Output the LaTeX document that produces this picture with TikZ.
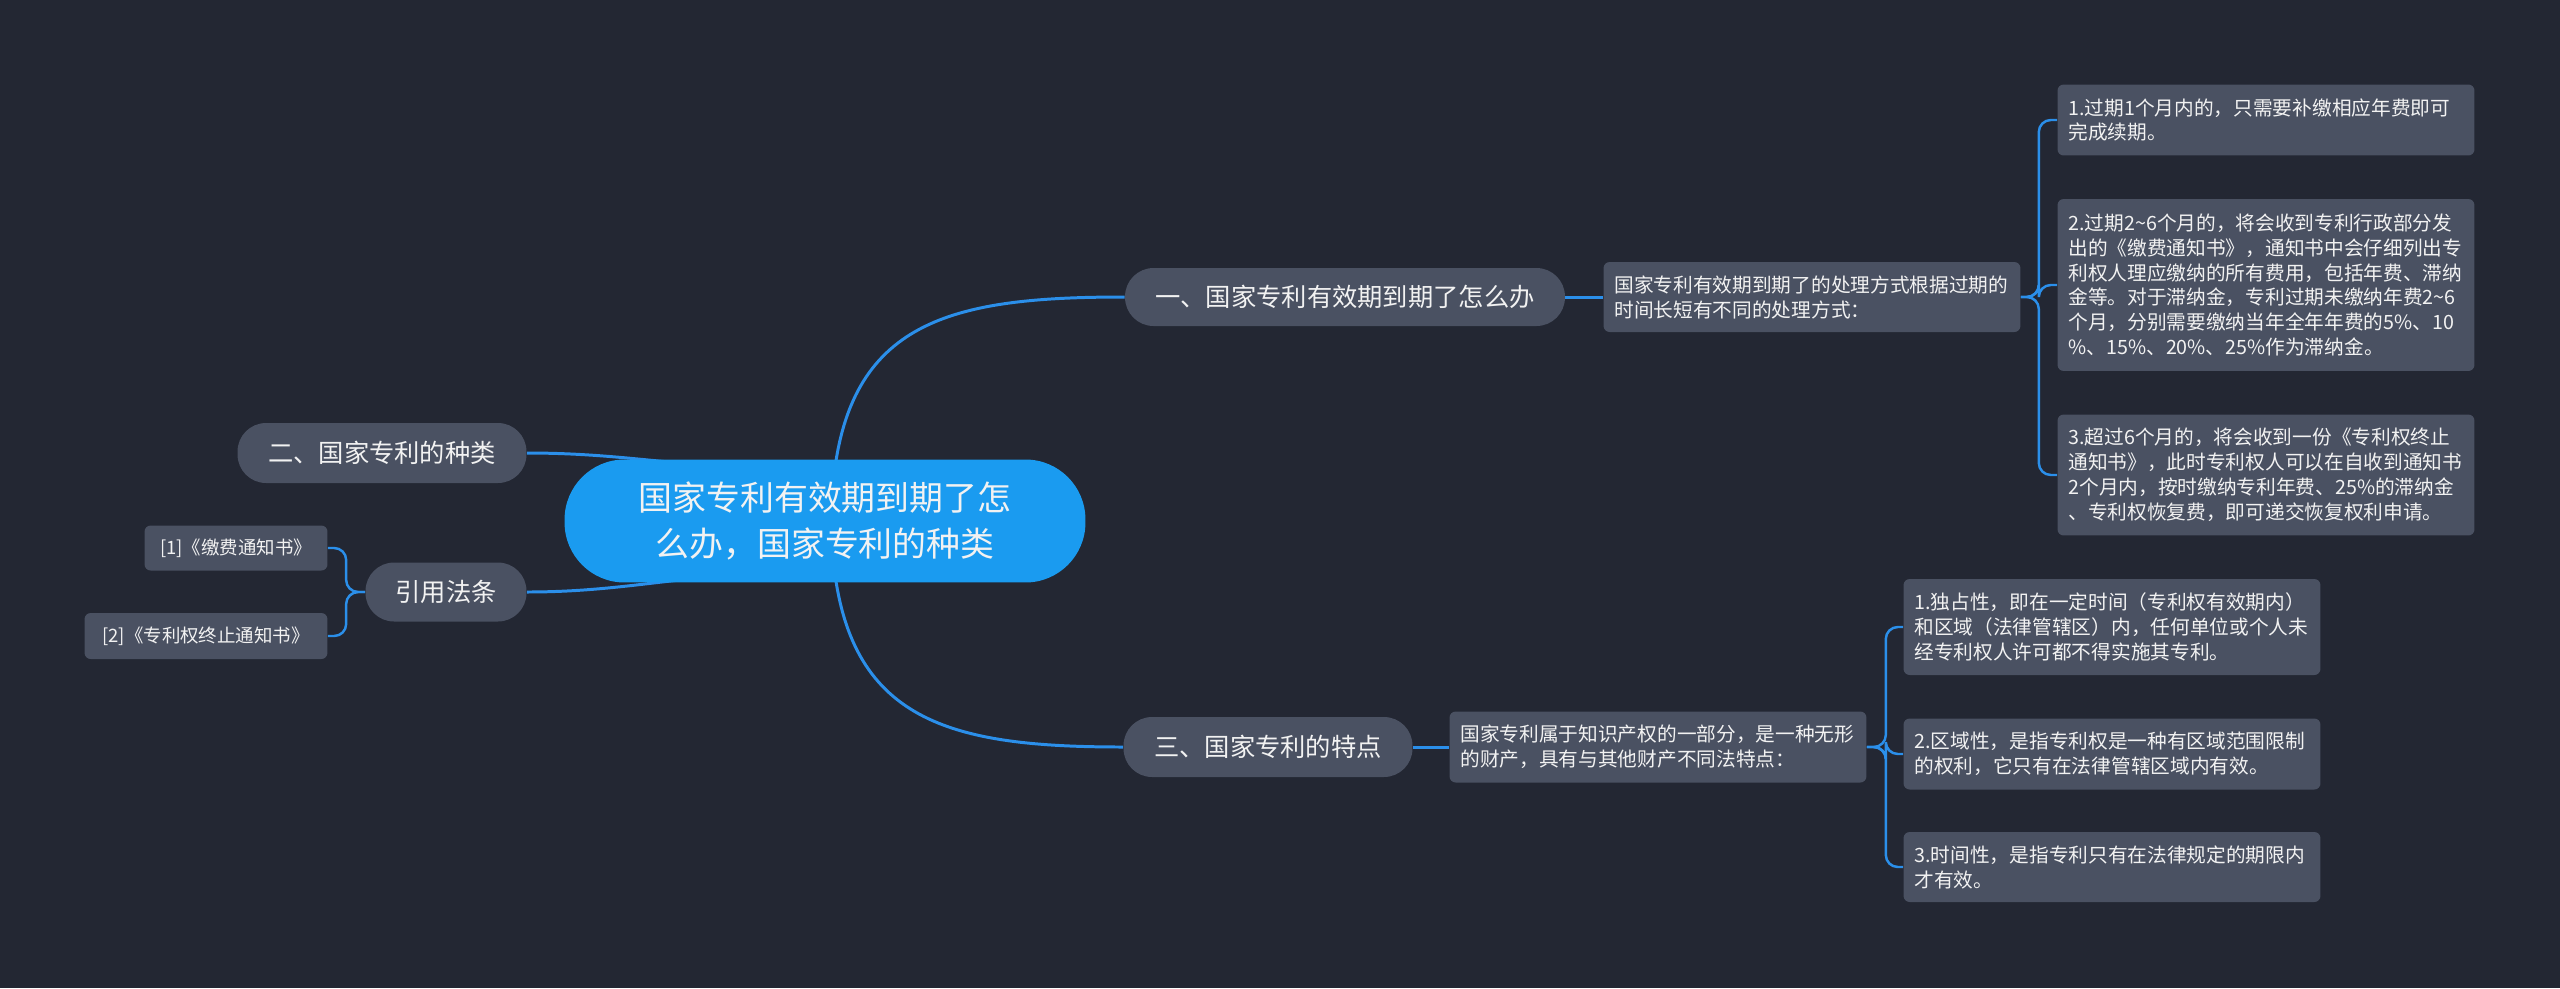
\documentclass[tikz,border=0pt]{standalone}
\usepackage{fontspec}
\setmainfont{Noto Sans CJK SC}
\usetikzlibrary{calc,backgrounds}
\definecolor{canvas}{HTML}{232733}
\definecolor{topic}{HTML}{4A5162}
\definecolor{rootblue}{HTML}{1A9BF0}
\definecolor{wireblue}{HTML}{2B8FEA}
\definecolor{ink}{HTML}{F2F2F2}
\tikzset{
  every node/.style={text=ink,inner sep=0pt},
  rootbox/.style={fill=rootblue,rounded corners=1.2cm,minimum width=10.42cm,minimum height=2.46cm,align=center,font=\fontsize{19.3}{26}\selectfont},
  topicbox/.style={fill=topic,rounded corners=0.57cm,minimum height=1.18cm,align=center,font=\fontsize{14.4}{18}\selectfont},
  infobox/.style={fill=topic,rounded corners=3.5pt,align=left,inner xsep=0.22cm,text width=7.9cm,font=\fontsize{11.2}{14.2}\selectfont},
  refbox/.style={fill=topic,rounded corners=3.5pt,align=center,font=\fontsize{10.5}{13}\selectfont},
  wire/.style={draw=wireblue,line width=1.7pt},
  bracket/.style={draw=wireblue,line width=1.4pt,rounded corners=0.24cm},
}

\begin{document}
\begin{tikzpicture}[x=0.02cm,y=-0.02cm]
  \useasboundingbox (0,0) rectangle (2560,988);

  \node[rootbox] (root) at (825,521) {国家专利有效期到期了怎\\么办，国家专利的种类};
  \coordinate (rootT) at (833,485);
  \coordinate (rootB) at (833,557);
  \coordinate (rootL1) at (780,468);
  \coordinate (rootL2) at (780,574);

  \node[topicbox,minimum width=8.8cm,minimum height=1.16cm] (expire) at (1345,297) {一、国家专利有效期到期了怎么办};
  \node[topicbox,minimum width=5.78cm,minimum height=1.2cm] (kinds) at (382,453) {二、国家专利的种类};
  \node[topicbox,minimum width=3.22cm] (laws) at (446,592) {引用法条};
  \node[topicbox,minimum width=5.78cm,minimum height=1.2cm] (traits) at (1268,747) {三、国家专利的特点};

  \node[refbox,minimum width=3.66cm,minimum height=0.9cm] (law1) at (236,548) {[1]《缴费通知书》};
  \node[refbox,minimum width=4.86cm,minimum height=0.92cm] (law2) at (206,636) {[2]《专利权终止通知书》};

  \node[infobox,minimum height=1.4cm] (expdesc) at (1812,297) {国家专利有效期到期了的处理方式根据过期的\\时间长短有不同的处理方式：};
  \node[infobox,minimum height=1.42cm] (exp1) at (2266,120) {1.过期1个月内的，只需要补缴相应年费即可\\完成续期。};
  \node[infobox,minimum height=3.44cm] (exp2) at (2266,285) {2.过期2\textasciitilde6个月的，将会收到专利行政部分发\\出的《缴费通知书》，通知书中会仔细列出专\\利权人理应缴纳的所有费用，包括年费、滞纳\\金等。对于滞纳金，专利过期未缴纳年费2\textasciitilde6\\个月，分别需要缴纳当年全年年费的5\%、10\\\%、15\%、20\%、25\%作为滞纳金。};
  \node[infobox,minimum height=2.42cm] (exp3) at (2266,475) {3.超过6个月的，将会收到一份《专利权终止\\通知书》，此时专利权人可以在自收到通知书\\2个月内，按时缴纳专利年费、25\%的滞纳金\\、专利权恢复费，即可递交恢复权利申请。};

  \node[infobox,minimum height=1.42cm] (traitdesc) at (1658,747) {国家专利属于知识产权的一部分，是一种无形\\的财产，具有与其他财产不同法特点：};
  \node[infobox,minimum height=1.92cm] (trait1) at (2112,627) {1.独占性，即在一定时间（专利权有效期内）\\和区域（法律管辖区）内，任何单位或个人未\\经专利权人许可都不得实施其专利。};
  \node[infobox,minimum height=1.42cm] (trait2) at (2112,754) {2.区域性，是指专利权是一种有区域范围限制\\的权利，它只有在法律管辖区域内有效。};
  \node[infobox,minimum height=1.4cm] (trait3) at (2112,867) {3.时间性，是指专利只有在法律规定的期限内\\才有效。};

  \begin{scope}[on background layer]
    \fill[canvas] (0,0) rectangle (2560,988);
    \draw[wire] (rootT) .. controls +(15,-165) and +(-173,0) .. (expire.west);
    \draw[wire] (rootB) .. controls +(15,165) and +(-173,0) .. (traits.west);
    \draw[wire] (kinds.east) to[out=0,in=180] (rootL1);
    \draw[wire] (laws.east) to[out=0,in=180] (rootL2);
    \draw[wire] (expire.east) -- (expdesc.west);
    \draw[wire] (traits.east) -- (traitdesc.west);
    \draw[bracket] (expdesc.east) -- ++(18,0) |- (exp1.west);
    \draw[bracket] (expdesc.east) -- ++(18,0) |- (exp2.west);
    \draw[bracket] (expdesc.east) -- ++(18,0) |- (exp3.west);
    \draw[bracket] (traitdesc.east) -- ++(19,0) |- (trait1.west);
    \draw[bracket] (traitdesc.east) -- ++(19,0) |- (trait2.west);
    \draw[bracket] (traitdesc.east) -- ++(19,0) |- (trait3.west);
    \draw[bracket] (laws.west) -- ++(-19,0) |- (law1.east);
    \draw[bracket] (laws.west) -- ++(-19,0) |- (law2.east);
  \end{scope}
\end{tikzpicture}
\end{document}
